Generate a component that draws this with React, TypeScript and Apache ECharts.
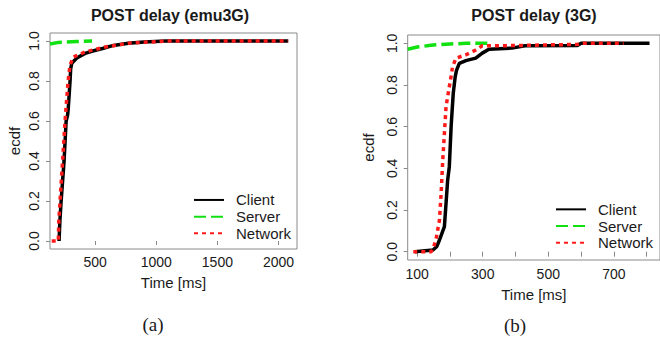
import React, { useEffect, useRef } from "react";
import * as echarts from "echarts";

const seriesNames = ["Client", "Server", "Network"];

// Panel (a): POST delay (emu3G)
const emuClient: number[][] = [
  [205, 0], [212, 0.1], [222, 0.2], [246, 0.4], [263, 0.6], [275, 0.63], [280, 0.66],
  [295, 0.8], [300, 0.86], [309, 0.889], [350, 0.915], [418, 0.938], [480, 0.95],
  [568, 0.964], [650, 0.978], [772, 0.989], [900, 0.995], [1080, 1.0], [2079, 1.0],
];
const emuServer: number[][] = [[131, 0.985], [200, 0.993], [350, 0.997], [475, 1.0]];
const emuNetwork: number[][] = [
  [145, 0], [199, 0], [203, 0.1], [213, 0.2], [234, 0.4], [254, 0.6], [279, 0.8],
  [295, 0.88], [322, 0.92], [418, 0.945], [582, 0.97], [786, 0.99], [1113, 1.0], [2079, 1.0],
];

// Panel (b): POST delay (3G)
const g3Client: number[][] = [
  [93, 0], [148, 0.008], [160, 0.025], [168, 0.056], [183, 0.12], [193, 0.344], [198, 0.408],
  [203.5, 0.6], [210, 0.76], [216, 0.84], [220, 0.87], [228.5, 0.904], [248.6, 0.917],
  [278.7, 0.929], [298.6, 0.953], [318.8, 0.972], [388.9, 0.977], [429, 0.988], [589, 0.99],
  [600, 1.0], [809, 1.0],
];
const g3Server: number[][] = [[71, 0.972], [100, 0.982], [148, 0.992], [200, 0.997], [248.6, 1.0], [314, 1.0]];
const g3Network: number[][] = [
  [88, 0], [143, 0], [150, 0.02], [158, 0.064], [168, 0.152], [173, 0.28], [178, 0.44],
  [188, 0.696], [198, 0.792], [200, 0.808], [208, 0.888], [218.5, 0.929], [248.6, 0.945],
  [278.7, 0.968], [298.6, 0.988], [349, 0.988], [589, 0.995], [600, 1.0], [730, 1.0],
];

const yTicks = [0, 0.2, 0.4, 0.6, 0.8, 1.0];
const emuXLabels = [500, 1000, 1500, 2000];
const g3XTicks = [100, 200, 300, 400, 500, 600, 700, 800];
const g3XLabels = [100, 300, 500, 700];

const FONT = "'Liberation Sans', Arial, sans-serif";
const GREY = "#8a8a8a";
const TXT = "#1a1a1a";
const BLACK = "#000000";
const GREEN = "#11e011";
const RED = "#ff1a1a";

export default function App() {
  const ref = useRef<HTMLDivElement>(null);
  useEffect(() => {
    if (!ref.current) return;
    const chart = echarts.init(ref.current, undefined, { renderer: "svg" });

    const yAxisCommon = (gridIndex: number, gap: number) => ({
      type: "value" as const,
      gridIndex,
      min: -0.04,
      max: 1.04,
      name: "ecdf",
      nameLocation: "middle" as const,
      nameRotate: 90,
      nameGap: gap,
      nameTextStyle: { fontFamily: FONT, fontSize: 15, color: TXT },
      axisLine: { show: false },
      splitLine: { show: false },
      axisTick: { show: true, length: 4, lineStyle: { color: GREY }, customValues: yTicks },
      axisLabel: {
        rotate: 90,
        margin: 9,
        fontFamily: FONT,
        fontSize: 14,
        color: TXT,
        customValues: yTicks,
        formatter: (v: number) => v.toFixed(1),
      },
    });

    const lineSeries = (name: string, data: number[][], idx: number) => {
      const color = name === "Client" ? BLACK : name === "Server" ? GREEN : RED;
      const type = name === "Client" ? "solid" : name === "Server" ? [12, 5] : [4, 4];
      return {
        type: "line" as const,
        name,
        xAxisIndex: idx,
        yAxisIndex: idx,
        data,
        showSymbol: false,
        symbol: "none",
        color,
        lineStyle: { color, width: 3.5, type },
        clip: true,
      };
    };

    const legendCommon = (left: number, top: number) => ({
      orient: "vertical" as const,
      left,
      top,
      padding: 0,
      itemGap: 0,
      itemWidth: 30,
      itemHeight: 14,
      data: seriesNames,
      itemStyle: { color: "transparent", borderColor: "transparent", borderWidth: 0, opacity: 0 },
      textStyle: { fontFamily: FONT, fontSize: 15, color: TXT, lineHeight: 16.7, padding: [0, 0, 0, 7] },
    });

    chart.setOption({
      animation: false,
      backgroundColor: "#ffffff",
      title: [
        { text: "POST delay (emu3G)", left: 170, top: 7, textAlign: "center", padding: 0,
          textStyle: { fontFamily: FONT, fontSize: 16, fontWeight: "bold", color: TXT } },
        { text: "POST delay (3G)", left: 534, top: 7, textAlign: "center", padding: 0,
          textStyle: { fontFamily: FONT, fontSize: 16, fontWeight: "bold", color: TXT } },
        { text: "(a)", left: 153, top: 315, textAlign: "center", padding: 0,
          textStyle: { fontFamily: "'Liberation Serif', 'Times New Roman', serif", fontSize: 19, fontWeight: "normal", color: TXT } },
        { text: "(b)", left: 515, top: 316, textAlign: "center", padding: 0,
          textStyle: { fontFamily: "'Liberation Serif', 'Times New Roman', serif", fontSize: 19, fontWeight: "normal", color: TXT } },
      ],
      legend: [legendCommon(193, 191.6), legendCommon(555, 201)],
      grid: [
        { left: 50, top: 33, width: 247, height: 216, show: true, borderColor: GREY, borderWidth: 1, containLabel: false },
        { left: 407.7, top: 35, width: 256, height: 225, show: true, borderColor: GREY, borderWidth: 1, containLabel: false },
      ],
      xAxis: [
        {
          type: "value", gridIndex: 0, min: 131, max: 2151,
          name: "Time [ms]", nameLocation: "middle", nameGap: 26,
          nameTextStyle: { fontFamily: FONT, fontSize: 15, color: TXT },
          axisLine: { show: false }, splitLine: { show: false },
          axisTick: { show: true, length: 4, lineStyle: { color: GREY }, customValues: emuXLabels },
          axisLabel: { margin: 6, fontFamily: FONT, fontSize: 14, color: TXT, customValues: emuXLabels,
            formatter: (v: number) => String(v) },
        },
        {
          type: "value", gridIndex: 1, min: 71, max: 841,
          name: "Time [ms]", nameLocation: "middle", nameGap: 27,
          nameTextStyle: { fontFamily: FONT, fontSize: 15, color: TXT },
          axisLine: { show: false }, splitLine: { show: false },
          axisTick: { show: true, length: 5, lineStyle: { color: GREY }, customValues: g3XTicks },
          axisLabel: { margin: 7, fontFamily: FONT, fontSize: 14, color: TXT, customValues: g3XLabels,
            formatter: (v: number) => String(v) },
        },
      ],
      yAxis: [yAxisCommon(0, 28), yAxisCommon(1, 32)],
      series: [
        lineSeries("Client", emuClient, 0),
        lineSeries("Server", emuServer, 0),
        lineSeries("Network", emuNetwork, 0),
        lineSeries("Client", g3Client, 1),
        lineSeries("Server", g3Server, 1),
        lineSeries("Network", g3Network, 1),
      ],
    });
    return () => chart.dispose();
  }, []);
  return (
    <div
      ref={ref}
      style={{ position: "absolute", left: 0, top: 0, width: 660, height: 337, background: "#fff" }}
    />
  );
}
